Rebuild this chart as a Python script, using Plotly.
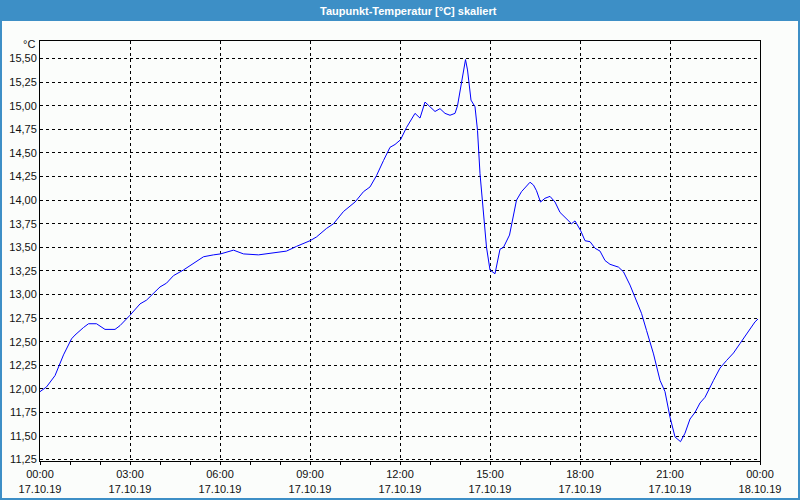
import plotly.graph_objects as go

times = ["00:00","00:13","00:30","00:47","01:03","01:10","01:27","01:37","01:53","02:10",
         "02:30","02:40","03:00","03:20","03:33","04:00","04:13","04:27","04:47","05:07",
         "05:27","05:47","06:01","06:27","06:47","07:17","07:47","08:13","08:33","09:00",
         "09:13","09:33","09:47","10:07","10:30","10:47","11:00","11:13","11:27","11:40",
         "11:50","12:01","12:13","12:30","12:40","12:50","13:00","13:10","13:20","13:30",
         "13:40","13:50","13:55","14:03","14:11","14:15","14:22","14:30","14:35","14:40",
         "14:47","14:53","15:00","15:10","15:20","15:27","15:39","15:47","15:53","16:03",
         "16:20","16:27","16:33","16:41","16:50","17:00","17:10","17:20","17:33","17:43",
         "17:50","18:01","18:10","18:20","18:30","18:40","18:50","19:00","19:17","19:27",
         "19:40","19:50","20:03","20:13","20:27","20:40","20:50","21:00","21:10","21:21",
         "21:30","21:40","21:50","22:00","22:10","22:27","22:40","22:53","23:07","23:20",
         "23:33","23:50","23:56"]
dewpoint = [11.97,12.02,12.14,12.36,12.53,12.57,12.65,12.69,12.69,12.63,
            12.63,12.67,12.78,12.90,12.94,13.08,13.12,13.20,13.26,13.33,
            13.40,13.42,13.43,13.47,13.43,13.42,13.44,13.46,13.51,13.57,
            13.61,13.70,13.75,13.88,13.98,14.09,14.14,14.26,14.42,14.56,
            14.59,14.64,14.77,14.92,14.87,15.04,14.99,14.94,14.97,14.92,
            14.90,14.92,15.00,15.27,15.49,15.38,15.06,14.99,14.74,14.28,
            13.82,13.50,13.26,13.22,13.48,13.50,13.63,13.86,14.00,14.09,
            14.19,14.16,14.10,13.98,14.02,14.04,13.98,13.87,13.80,13.75,
            13.78,13.68,13.57,13.56,13.49,13.46,13.36,13.32,13.29,13.24,
            13.10,12.96,12.80,12.62,12.37,12.09,11.97,11.70,11.49,11.44,
            11.53,11.68,11.75,11.85,11.91,12.09,12.22,12.30,12.38,12.48,
            12.58,12.71,12.74]

day = "2019-10-17 "
x_vals = [day + t for t in times]

title_text = "Taupunkt-Temperatur [°C] skaliert"
unit_text = "°C"

W, H = 800, 500
ML, MR, MT, MB = 40, 40, 41, 39
PW, PH = W - ML - MR, H - MT - MB

def px_to_paper_x(px):
    return (px - ML) / PW

def px_to_paper_y(py):
    return 1 - (py - MT) / PH

fig = go.Figure()
fig.add_trace(go.Scatter(x=x_vals, y=dewpoint, mode="lines",
                         line=dict(color="#0000ff", width=1), hoverinfo="skip"))

tick_font = dict(family="Liberation Sans, Arial, sans-serif", size=11, color="#111111")
grid = dict(showgrid=True, gridcolor="#000000", gridwidth=1, griddash="3px,3px",
            showline=True, linecolor="#000000", linewidth=1, mirror=True, zeroline=False,
            automargin=False)

fig.update_layout(
    width=W, height=H,
    margin=dict(l=ML, r=MR, t=MT, b=MB, pad=0, autoexpand=False),
    paper_bgcolor="#fbfdfb", plot_bgcolor="#fbfdfb",
    separators=",.",
    showlegend=False,
    xaxis=dict(type="date", range=["2019-10-17 00:00", "2019-10-18 00:00"],
               tick0="2019-10-17 00:00", dtick=3 * 3600000,
               tickformat="%H:%M<br>%d.%m.%y", ticks="outside", ticklen=3,
               tickcolor="#000000", tickfont=tick_font,
               minor=dict(dtick=3600000, ticks="outside", ticklen=3,
                          tickcolor="#000000", showgrid=False),
               **grid),
    yaxis=dict(range=[11.235, 15.687], tick0=11.25, dtick=0.25, tickformat=".2f",
               ticks="", tickfont=tick_font, **grid),
    shapes=[
        dict(type="rect", xref="paper", yref="paper",
             x0=px_to_paper_x(0), x1=px_to_paper_x(W),
             y0=px_to_paper_y(21), y1=px_to_paper_y(0),
             fillcolor="#3d8fc6", line=dict(width=0), layer="above"),
        dict(type="rect", xref="paper", yref="paper",
             x0=px_to_paper_x(0), x1=px_to_paper_x(W),
             y0=px_to_paper_y(H), y1=px_to_paper_y(0),
             fillcolor="rgba(0,0,0,0)", line=dict(color="#3d8fc6", width=4), layer="above"),
    ],
    annotations=[
        dict(text="<b>" + title_text + "</b>", xref="paper", yref="paper",
             x=px_to_paper_x(409), y=px_to_paper_y(10.5), xanchor="center", yanchor="middle",
             showarrow=False, font=dict(family="Liberation Sans, Arial, sans-serif", size=11, color="#ffffff")),
        dict(text=unit_text, xref="paper", yref="paper",
             x=px_to_paper_x(37), y=px_to_paper_y(44), xanchor="right", yanchor="middle",
             showarrow=False, font=tick_font),
    ],
)

fig.write_html("out.html")
